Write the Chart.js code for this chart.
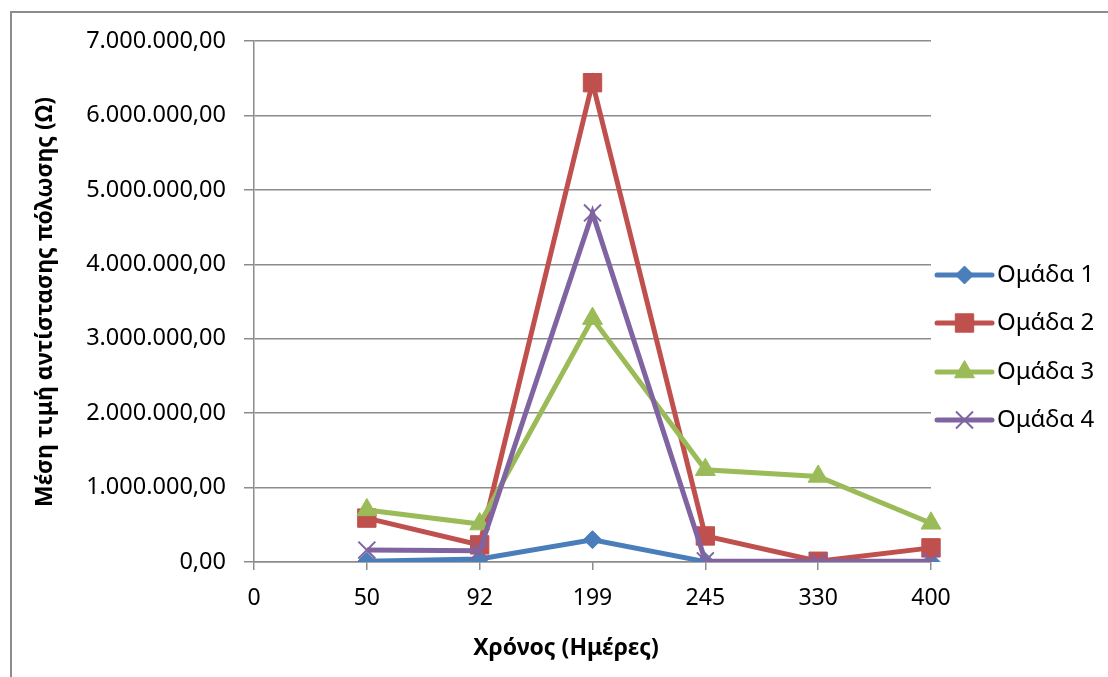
<!DOCTYPE html>
<html>
<head>
<meta charset="utf-8">
<script src="https://cdn.jsdelivr.net/npm/chart.js@4/dist/chart.umd.min.js"></script>
<style>
  html, body { margin: 0; padding: 0; background: #ffffff; }
  #wrap { width: 1108px; height: 677px; position: relative; }
</style>
</head>
<body>
<div id="wrap"><canvas id="c" width="1108" height="677"></canvas></div>
<script>
// Time points (days) on the category axis; the first slot has no measurements
const days = ['0', '50', '92', '199', '245', '330', '400'];

// Mean polarization resistance (Ω) per group
const group1 = [null, 10000, 40000, 300000, 5000, 5000, 5000];
const group2 = [null, 590000, 230000, 6440000, 350000, 10000, 190000];
const group3 = [null, 700000, 510000, 3270000, 1240000, 1150000, 520000];
const group4 = [null, 160000, 150000, 4690000, 15000, 10000, 10000];

const seriesNames = ['Ομάδα 1', 'Ομάδα 2', 'Ομάδα 3', 'Ομάδα 4'];

const yTickMax = 7000000;
const yTickStep = 1000000;

const xTitle = 'Χρόνος (Ημέρες)';
const yTitle = 'Μέση τιμή αντίστασης πόλωσης (Ω)';

const FONT = '"Noto Sans", "Open Sans", sans-serif';
const GRID = '#8c8c8c';

// Greek number format: 7.000.000,00
function fmtGreek(v) {
  const fixed = Math.abs(v).toFixed(2);
  const [intPart, dec] = fixed.split('.');
  const grouped = intPart.replace(/\B(?=(\d{3})+(?!\d))/g, '.');
  return (v < 0 ? '-' : '') + grouped + ',' + dec;
}

const styles = [
  { color: '#4a7ebb', point: 'rectRot', radius: 9, border: 1 },
  { color: '#c0504d', point: 'rect', radius: 13, border: 1 },
  { color: '#9bbb59', point: 'triangle', radius: 11.5, border: 1 },
  { color: '#8064a2', point: 'crossRot', radius: 12, border: 2 }
];

const seriesData = [group1, group2, group3, group4];

const datasets = seriesData.map((data, i) => ({
  label: seriesNames[i],
  data: data,
  borderColor: styles[i].color,
  backgroundColor: styles[i].color,
  borderWidth: 5,
  pointStyle: styles[i].point,
  pointRadius: styles[i].radius,
  pointHoverRadius: styles[i].radius,
  pointBorderWidth: styles[i].border,
  pointBorderColor: styles[i].color,
  pointBackgroundColor: styles[i].color,
  tension: 0,
  spanGaps: false,
  // later groups are painted on top
  order: seriesData.length - i
}));

// Frame around the whole chart object
const framePlugin = {
  id: 'frame',
  beforeDraw(chart) {
    const ctx = chart.ctx;
    ctx.save();
    ctx.strokeStyle = GRID;
    ctx.lineWidth = 2;
    ctx.strokeRect(11, 12, chart.width + 20, chart.height + 20);
    ctx.restore();
  }
};

// Axis titles at fixed spots
const titlesPlugin = {
  id: 'axisTitles',
  afterDraw(chart) {
    const ctx = chart.ctx;
    ctx.save();
    ctx.fillStyle = '#000';
    ctx.font = 'bold 23px ' + FONT;
    ctx.textAlign = 'center';
    ctx.textBaseline = 'middle';
    ctx.fillText(xTitle, 566, 648);
    ctx.translate(45, 302);
    ctx.rotate(-Math.PI / 2);
    ctx.fillText(yTitle, 0, 0);
    ctx.restore();
  }
};

// Legend with a short line and the series marker
const legendPlugin = {
  id: 'lineLegend',
  afterDraw(chart) {
    const ctx = chart.ctx;
    const x0 = 937, x1 = 992, tx = 997;
    const ys = [275, 323, 372, 420];
    ctx.save();
    chart.data.datasets.forEach((ds, i) => {
      const y = ys[i];
      ctx.strokeStyle = ds.borderColor;
      ctx.lineWidth = 5;
      ctx.lineCap = 'round';
      ctx.beginPath();
      ctx.moveTo(x0, y);
      ctx.lineTo(x1, y);
      ctx.stroke();
      ctx.fillStyle = ds.pointBackgroundColor;
      ctx.strokeStyle = ds.pointBorderColor;
      ctx.lineWidth = ds.pointBorderWidth;
      ctx.lineCap = 'butt';
      Chart.helpers.drawPoint(ctx, { pointStyle: ds.pointStyle, radius: ds.pointRadius, rotation: 0, borderWidth: ds.pointBorderWidth }, (x0 + x1) / 2, y);
      ctx.fillStyle = '#000';
      ctx.font = '24px ' + FONT;
      ctx.textAlign = 'left';
      ctx.textBaseline = 'middle';
      ctx.fillText(ds.label, tx, y);
    });
    ctx.restore();
  }
};

new Chart(document.getElementById('c'), {
  type: 'line',
  data: { labels: days, datasets: datasets },
  options: {
    responsive: false,
    animation: false,
    devicePixelRatio: 1,
    layout: { padding: { left: 0, right: 177, top: 41, bottom: 0 } },
    plugins: {
      legend: { display: false },
      tooltip: { enabled: false }
    },
    scales: {
      x: {
        type: 'category',
        offset: false,
        grid: {
          display: true,
          drawOnChartArea: false,
          drawTicks: true,
          tickLength: 8,
          color: GRID,
          lineWidth: 1.5
        },
        border: { display: true, color: GRID, width: 1.5 },
        ticks: {
          color: '#000',
          font: { family: FONT, size: 23 },
          padding: 15,
          maxRotation: 0,
          autoSkip: false
        },
        afterFit(scale) { scale.height = 115; }
      },
      y: {
        min: 0,
        max: yTickMax,
        grid: {
          color: GRID,
          lineWidth: 1.5,
          drawTicks: true,
          tickLength: 10
        },
        border: { display: true, color: GRID, width: 1.5 },
        ticks: {
          stepSize: yTickStep,
          color: '#000',
          font: { family: FONT, size: 23.5 },
          padding: 18,
          callback: (v) => fmtGreek(v)
        },
        afterFit(scale) { scale.width = 254; }
      }
    }
  },
  plugins: [framePlugin, titlesPlugin, legendPlugin]
});
</script>
</body>
</html>
